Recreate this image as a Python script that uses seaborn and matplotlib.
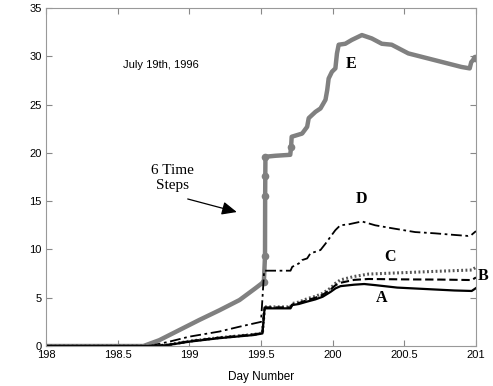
import numpy as np
import pandas as pd
import matplotlib
matplotlib.use('Agg')
import matplotlib.pyplot as plt
import seaborn as sns

a_day = [198.0, 198.75, 198.85, 199.0, 199.2, 199.45, 199.51, 199.525, 199.706, 199.718, 199.764, 199.822,
         199.88, 199.93, 199.985, 200.02, 200.055, 200.15, 200.22, 200.3, 200.45, 200.65, 200.85, 200.97, 201.0]
a_val = [0, 0, 0.1, 0.45, 0.8, 1.14, 1.3, 3.9, 3.9, 4.24, 4.35, 4.6,
         4.83, 5.1, 5.6, 5.97, 6.2, 6.35, 6.42, 6.3, 6.05, 5.9, 5.75, 5.7, 6.0]

b_day = [198.0, 198.75, 198.85, 199.0, 199.2, 199.45, 199.51, 199.525, 199.706, 199.718, 199.764, 199.822,
         199.88, 199.93, 199.985, 200.02, 200.055, 200.15, 200.25, 200.5, 200.75, 200.97, 201.0]
b_val = [0, 0, 0.12, 0.5, 0.85, 1.2, 1.35, 4.0, 4.0, 4.3, 4.45, 4.75,
         5.0, 5.3, 5.85, 6.3, 6.55, 6.85, 6.94, 6.9, 6.88, 6.83, 7.1]

c_day = [198.0, 198.75, 198.85, 199.0, 199.2, 199.45, 199.51, 199.525, 199.706, 199.718, 199.764, 199.822,
         199.88, 199.93, 199.985, 200.02, 200.055, 200.15, 200.25, 200.5, 200.75, 200.97, 201.0]
c_val = [0, 0, 0.12, 0.5, 0.85, 1.2, 1.35, 4.05, 4.05, 4.4, 4.55, 4.9,
         5.15, 5.45, 6.0, 6.5, 6.85, 7.2, 7.45, 7.6, 7.75, 7.87, 8.15]

d_day = [198.0, 198.72, 198.86, 199.0, 199.21, 199.35, 199.5, 199.522, 199.706, 199.718, 199.764, 199.787,
         199.822, 199.845, 199.88, 199.915, 199.95, 199.984, 200.019, 200.053, 200.111, 200.204, 200.297,
         200.412, 200.575, 200.713, 200.852, 200.944, 200.968, 201.0]
d_val = [0, 0, 0.45, 0.97, 1.5, 2.0, 2.5, 7.8, 7.8, 8.2, 8.55, 8.9,
         9.07, 9.6, 9.76, 9.94, 10.6, 11.3, 12.0, 12.5, 12.6, 12.9, 12.5,
         12.2, 11.8, 11.67, 11.5, 11.4, 11.5, 11.9]

e_day = [198.0, 198.68, 198.79, 198.93, 199.07, 199.21, 199.35, 199.46, 199.52, 199.528, 199.529, 199.530,
         199.531, 199.6, 199.704, 199.71, 199.714, 199.787, 199.822, 199.833, 199.88, 199.915, 199.95,
         199.962, 199.972, 199.995, 200.019, 200.03, 200.042, 200.088, 200.134, 200.204, 200.273, 200.343,
         200.412, 200.528, 200.713, 200.898, 200.956, 200.967, 200.991]
e_val = [0, 0, 0.6, 1.65, 2.7, 3.7, 4.76, 5.97, 6.65, 9.3, 15.5, 17.6,
         19.6, 19.7, 19.8, 20.6, 21.67, 22.0, 22.7, 23.6, 24.25, 24.6, 25.5,
         26.5, 27.7, 28.4, 28.75, 30.3, 31.2, 31.3, 31.7, 32.2, 31.85, 31.3,
         31.2, 30.3, 29.6, 28.9, 28.75, 29.4, 29.8]
e_steps = [8, 9, 10, 11, 12, 15, 40]  # time steps shown as dots

plt.rcParams['font.family'] = ['Liberation Sans', 'DejaVu Sans']

fig = plt.figure(figsize=(4.93, 3.86), dpi=100)
ax = fig.add_axes([0.0933, 0.1036, 0.8722, 0.8756])

sns.lineplot(x=e_day, y=e_val, ax=ax, sort=False, estimator=None, color='#808080',
             lw=3.2, marker='o', markersize=5.5, markeredgewidth=0, markevery=e_steps)
sns.lineplot(x=d_day, y=d_val, ax=ax, sort=False, estimator=None, color='black',
             lw=1.3, linestyle=(0, (6, 2, 1.5, 2)))
sns.lineplot(x=c_day, y=c_val, ax=ax, sort=False, estimator=None, color='#555555',
             lw=2.2, linestyle=(0, (0.6, 0.8)))
sns.lineplot(x=b_day, y=b_val, ax=ax, sort=False, estimator=None, color='black',
             lw=1.5, linestyle=(0, (4, 1.8)))
sns.lineplot(x=a_day, y=a_val, ax=ax, sort=False, estimator=None, color='black', lw=1.6)

ax.set_xlim(198, 201)
ax.set_ylim(0, 35)
ax.set_xticks([198, 198.5, 199, 199.5, 200, 200.5, 201])
ax.set_xticklabels(['198', '198.5', '199', '199.5', '200', '200.5', '201'])
ax.set_yticks(range(0, 36, 5))
ax.tick_params(direction='in', top=True, right=True, length=4, color='#888888',
               labelsize=8, pad=3)
for s in ax.spines.values():
    s.set_color('#999999')
ax.set_xlabel('Day Number', fontsize=8.5, labelpad=8)

ax.text(198.54, 28.8, 'July 19th, 1996', fontsize=8)
ax.text(198.88, 17.4, '6 Time\nSteps', fontsize=11, family='Liberation Serif',
        ha='center', va='center', linespacing=1.25)
ax.annotate('', xy=(199.35, 13.8), xytext=(198.97, 15.3),
            arrowprops=dict(arrowstyle='-|>,head_length=0.9,head_width=0.4', color='black', lw=0.9))

lab = dict(fontsize=11.5, family='Liberation Serif', fontweight='bold', ha='center', va='center')
ax.text(200.13, 29.2, 'E', **lab)
ax.text(200.2, 15.2, 'D', **lab)
ax.text(200.4, 9.2, 'C', **lab)
ax.text(201.05, 7.2, 'B', clip_on=False, **lab)
ax.text(200.34, 5.0, 'A', **lab)

fig.savefig('out.png', dpi=100)
